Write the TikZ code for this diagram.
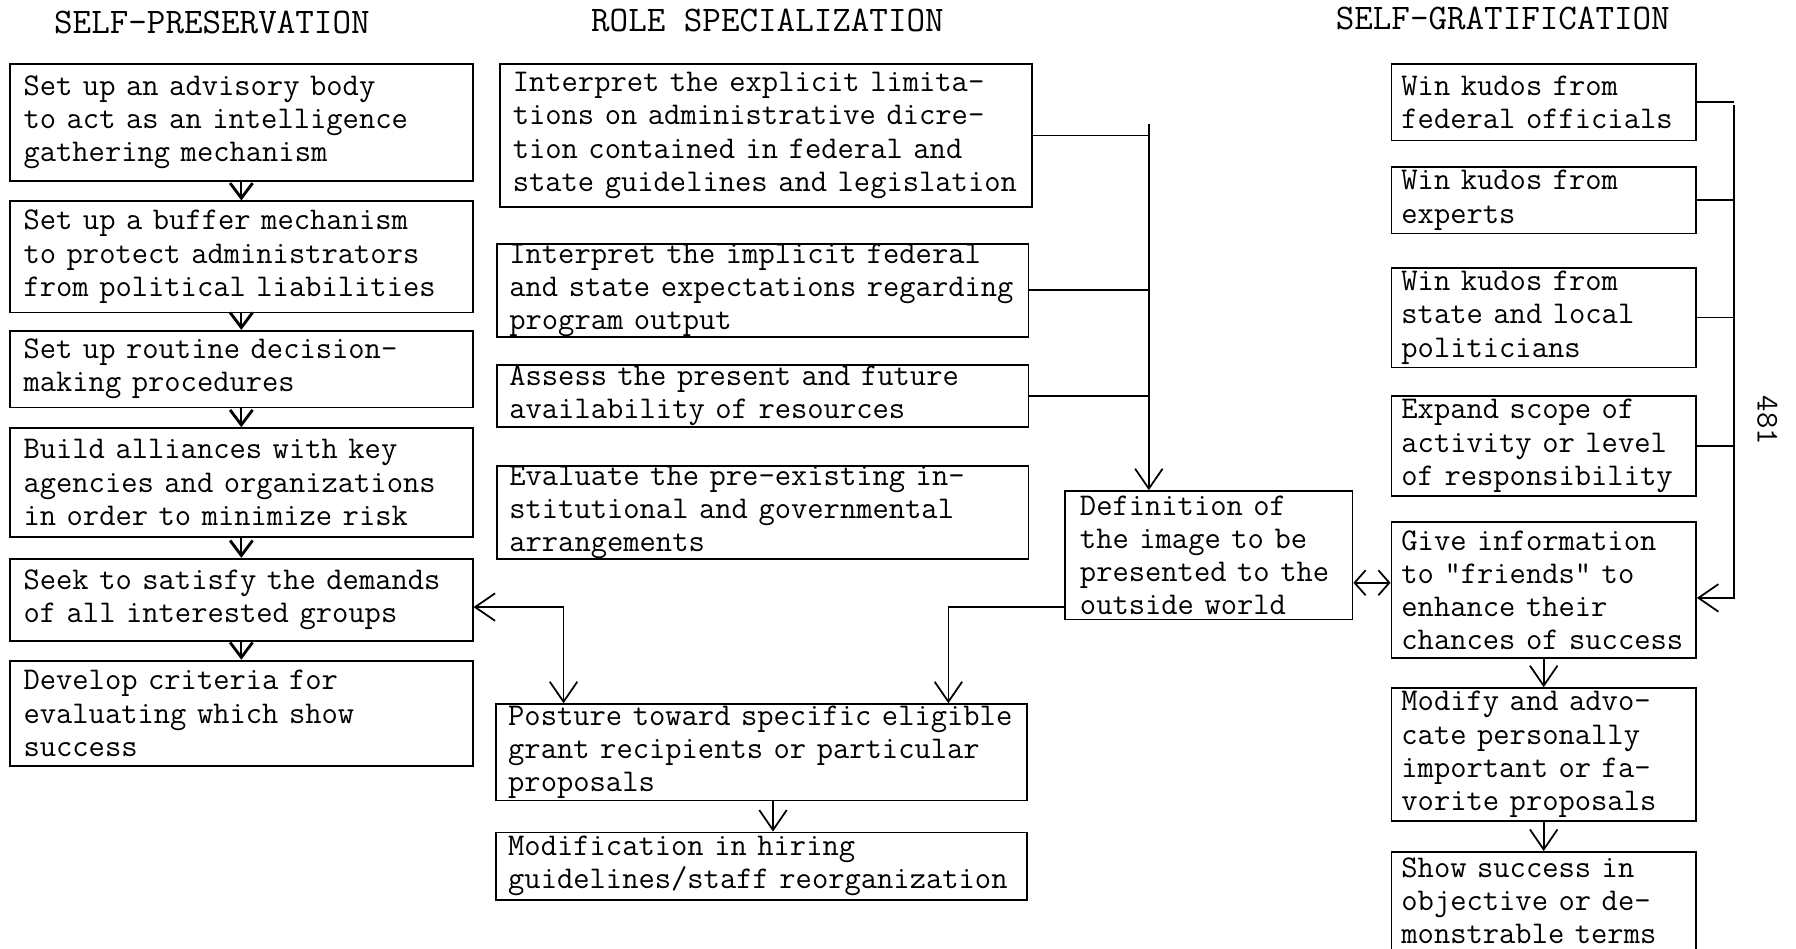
\documentclass[tikz,border=0pt]{standalone}
\usetikzlibrary{arrows.meta}
\begin{document}
\begin{tikzpicture}[x=0.0229cm, y=-0.0229cm, line width=1pt,
  >={Straight Barb[length=0.4cm,width=0.55cm]}]
\tikzset{
  txt/.style={font=\ttfamily\fontsize{18}{18.9}\selectfont},
  head/.style={font=\ttfamily\fontsize{20.5}{22}\selectfont},
  box/.style={txt, draw, anchor=north west, align=left, inner ysep=0pt, inner xsep=0.27cm},
  colA/.style={box, text width=8.71cm},
  colB/.style={box, inner xsep=0.25cm, text width=10.13cm},
  colD/.style={box, inner xsep=0.3cm, text width=5.15cm},
  colR/.style={box, inner xsep=0.2cm, text width=5.69cm},
  small/.style={-{Straight Barb[length=0.3cm,width=0.45cm,line width=1.6pt]}},
  short/.style={{Straight Barb[length=0.22cm,width=0.5cm]}-{Straight Barb[length=0.22cm,width=0.5cm]}},
}

\useasboundingbox (0,0) rectangle (1568,828);

%\draw [lightgray, dashed] (0,0) grid[step=100] (1568,828);

\node [head] (t1) at (185,20) {SELF-PRESERVATION};
\node [head] (t2) at (670,18) {ROLE SPECIALIZATION};
\node [head] (t3) at (1312,16) {SELF-GRATIFICATION};

\node [txt, rotate=-90] (pg) at (1543,367) {481};

% self-preservation
\node [colA, minimum height=2.336cm] (sp1) at (8,55)  {Set up an advisory body\\to act as an intelligence\\gathering mechanism};
\node [colA, minimum height=2.221cm] (sp2) at (8,175) {Set up a buffer mechanism\\to protect administrators\\from political liabilities};
\node [colA, minimum height=1.534cm] (sp3) at (8,288) {Set up routine decision-\\making procedures};
\node [colA, minimum height=2.176cm] (sp4) at (8,373) {Build alliances with key\\agencies and organizations\\in order to minimize risk};
\node [colA, minimum height=1.649cm] (sp5) at (8,487) {Seek to satisfy the demands\\of all interested groups};
\node [colA, minimum height=2.107cm] (sp6) at (8,576) {Develop criteria for\\evaluating which show\\success};

\draw [small] (sp1) -- (sp2);
\draw [small] (sp2) -- (sp3);
\draw [small] (sp3) -- (sp4);
\draw [small] (sp4) -- (sp5);
\draw [small] (sp5) -- (sp6);

% role specialization
\node [colB, minimum height=2.863cm] (rs1) at (436,55)  {Interpret the explicit limita-\\tions on administrative dicre-\\tion contained in federal and\\state guidelines and legislation};
\node [colB, minimum height=1.832cm] (rs2) at (433,212) {Interpret the implicit federal\\and state expectations regarding\\program output};
\node [colB, minimum height=1.237cm] (rs3) at (433,318) {Assess the present and future\\availability of resources};
\node [colB, minimum height=1.809cm] (rs4) at (433,406) {Evaluate the pre-existing in-\\stitutional and governmental\\arrangements};
\node [colB, minimum height=1.924cm] (rs5) at (432,614) {Posture toward specific eligible\\grant recipients or particular\\proposals};
\node [colB, minimum height=1.351cm] (rs6) at (432,726) {Modification in hiring\\guidelines/staff reorganization};

\node [colD, minimum height=2.565cm] (def) at (929,428) {Definition of\\the image to be\\presented to the\\outside world};

% self-gratification
\node [colR, minimum height=1.534cm] (sg1) at (1214,55)  {Win kudos from\\federal officials};
\node [colR, minimum height=1.328cm] (sg2) at (1214,145) {Win kudos from\\experts};
\node [colR, minimum height=1.992cm] (sg3) at (1214,233) {Win kudos from\\state and local\\politicians};
\node [colR, minimum height=1.992cm] (sg4) at (1214,345) {Expand scope of\\activity or level\\of responsibility};
\node [colR, minimum height=2.725cm] (sg5) at (1214,455) {Give information\\to "friends" to\\enhance their\\chances of success};
\node [colR, minimum height=2.656cm] (sg6) at (1214,600) {Modify and advo-\\cate personally\\important or fa-\\vorite proposals};
\node [colR, minimum height=1.95cm] (sg7) at (1214,743) {Show success in\\objective or de-\\monstrable terms};

% connectors
\coordinate (jn) at (1003,108);
\draw (rs1.east) -- (rs1.east -| jn);
\draw (rs2.east) -- (rs2.east -| jn);
\draw (rs3.east) -- (rs3.east -| jn);
\draw [->] (jn) -- (jn |- def.north);

\coordinate (dk) at (828,530);
\draw [->] (def.west |- dk) -- (dk) -- (dk |- rs5.north);

\coordinate (ak) at (492,530);
\draw [<->] (sp5.east |- ak) -- (ak) -- (ak |- rs5.north);

\draw [->] ([xshift=0.23cm]rs5.south) -- ([xshift=0.23cm]rs5.south |- rs6.north);

\draw [short] ([yshift=-0.55cm]def.east) -- ([yshift=-0.55cm]def.east -| sg5.west);

\coordinate (sj) at (1514,92);
\coordinate (sk) at (1514,522);
\draw (sg1.east) -- (sg1.east -| sj);
\draw (sg2.east) -- (sg2.east -| sj);
\draw (sg3.east) -- (sg3.east -| sj);
\draw (sg4.east) -- (sg4.east -| sj);
\draw [->] (sj) -- (sk) -- (sk -| sg5.east);

\draw [->] (sg5) -- (sg6);
\draw [->] (sg6) -- (sg7);

\end{tikzpicture}
\end{document}
